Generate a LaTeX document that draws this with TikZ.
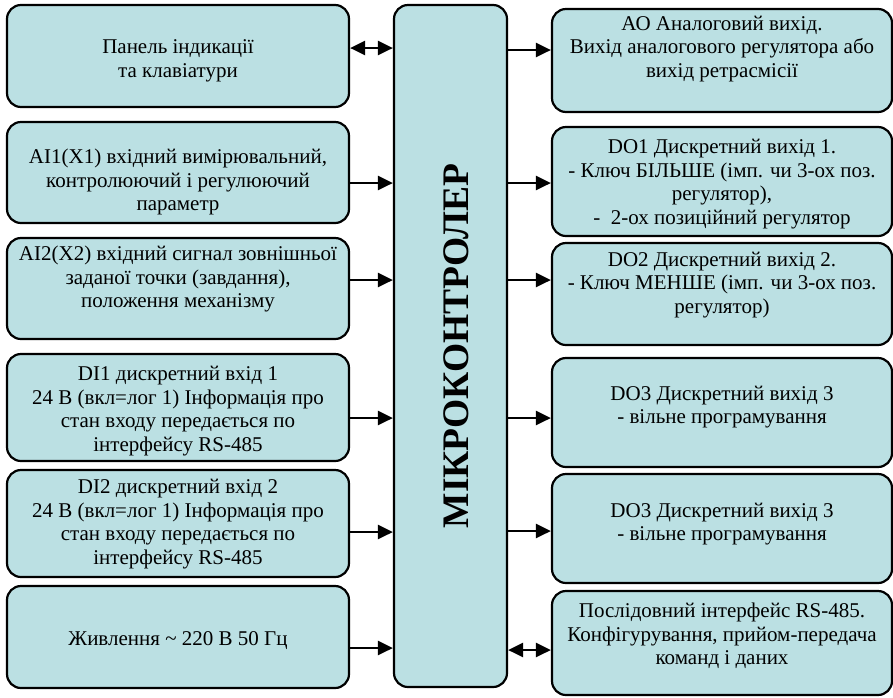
\documentclass[tikz,border=0pt]{standalone}
\usepackage{fontspec}
\setmainfont{Liberation Serif}
\usetikzlibrary{arrows.meta}
\definecolor{boxfill}{RGB}{187,224,227}
\begin{document}
\begin{tikzpicture}[x=1pt,y=-1pt,
  blk/.style={draw=black, line width=2.2pt, fill=boxfill, rounded corners=14pt, rectangle, inner sep=0pt},
  lbl/.style={align=center, font=\fontsize{21}{23.5}\selectfont, inner sep=0pt},
  arr/.style={line width=2.5pt, -{Triangle[length=15pt,width=14pt]}},
  barr/.style={line width=2.5pt, {Triangle[length=15pt,width=14pt]}-{Triangle[length=15pt,width=14pt]}}]
\useasboundingbox (0,0) rectangle (893,697);

% left boxes
\node[blk, minimum width=342pt, minimum height=102pt] (l1) at (178,56) {};
\node[blk, minimum width=342pt, minimum height=101pt] (l2) at (178,172.5) {};
\node[blk, minimum width=342pt, minimum height=101pt] (l3) at (178,288.5) {};
\node[blk, minimum width=342pt, minimum height=107pt] (l4) at (178,407.5) {};
\node[blk, minimum width=342pt, minimum height=107pt] (l5) at (178,523.5) {};
\node[blk, minimum width=342pt, minimum height=102pt] (l6) at (178,637) {};

% central
\node[blk, minimum width=113pt, minimum height=682pt] (mc) at (450.5,346) {};
\node[rotate=90, font=\fontsize{37.5}{37.5}\selectfont\bfseries, inner sep=0pt] (mct) at (456,346) {МІКРОКОНТРОЛЕР};

% right boxes
\node[blk, minimum width=340pt, minimum height=103pt] (r1) at (722,60.5) {};
\node[blk, minimum width=340pt, minimum height=109pt] (r2) at (722,181.5) {};
\node[blk, minimum width=340pt, minimum height=102pt] (r3) at (722,294) {};
\node[blk, minimum width=340pt, minimum height=109pt] (r4) at (722,412.5) {};
\node[blk, minimum width=340pt, minimum height=109pt] (r5) at (722,528.5) {};
\node[blk, minimum width=340pt, minimum height=104pt] (r6) at (722,643) {};

% texts
\node[lbl] (t1) at (178,61) {Панель індикації\\та клавіатури};
\node[lbl] (t2) at (178,182) {AI1(X1) вхідний вимірювальний,\\контролюючий і регулюючий\\параметр};
\node[lbl] (t3) at (178,279) {AI2(X2) вхідний сигнал зовнішньої\\заданої точки (завдання),\\положення механізму};
\node[lbl] (t4) at (178,411) {DI1 дискретний вхід 1\\24 В (вкл=лог 1) Інформація про\\стан входу передається по\\інтерфейсу RS-485};
\node[lbl] (t5) at (178,524) {DI2 дискретний вхід 2\\24 В (вкл=лог 1) Інформація про\\стан входу передається по\\інтерфейсу RS-485};
\node[lbl] (t6) at (178,641) {Живлення \textasciitilde\ 220 В 50 Гц};

\node[lbl] (u1) at (722,49) {АО Аналоговий вихід.\\Вихід аналогового регулятора або\\вихід ретрасмісії};
\node[lbl] (u2) at (722,184) {DO1 Дискретний вихід 1.\\- Ключ БІЛЬШЕ (імп. чи 3-ох поз.\\регулятор),\\-\ \ 2-ох позиційний регулятор};
\node[lbl] (u3) at (722,285) {DO2 Дискретний вихід 2.\\- Ключ МЕНШЕ (імп. чи 3-ох поз.\\регулятор)};
\node[lbl] (u4) at (722,407) {DO3 Дискретний вихід 3\\- вільне програмування};
\node[lbl] (u5) at (722,524) {DO3 Дискретний вихід 3\\- вільне програмування};
\node[lbl] (u6) at (722,636) {Послідовний інтерфейс RS-485.\\Конфігурування, прийом-передача\\команд і даних};

% connectors
\draw[barr] (l1.east |- 0,48) -- (mc.west |- 0,48);
\draw[arr] (l2.east |- 0,183) -- (mc.west |- 0,183);
\draw[arr] (l3.east |- 0,280) -- (mc.west |- 0,280);
\draw[arr] (l4.east |- 0,418) -- (mc.west |- 0,418);
\draw[arr] (l5.east |- 0,532) -- (mc.west |- 0,532);
\draw[arr] (l6.east |- 0,648) -- (mc.west |- 0,648);

\draw[arr] (mc.east |- 0,50) -- (r1.west |- 0,50);
\draw[arr] (mc.east |- 0,183) -- (r2.west |- 0,183);
\draw[arr] (mc.east |- 0,280) -- (r3.west |- 0,280);
\draw[arr] (mc.east |- 0,418) -- (r4.west |- 0,418);
\draw[arr] (mc.east |- 0,531) -- (r5.west |- 0,531);
\draw[barr] (mc.east |- 0,650) -- (r6.west |- 0,650);
\end{tikzpicture}
\end{document}
